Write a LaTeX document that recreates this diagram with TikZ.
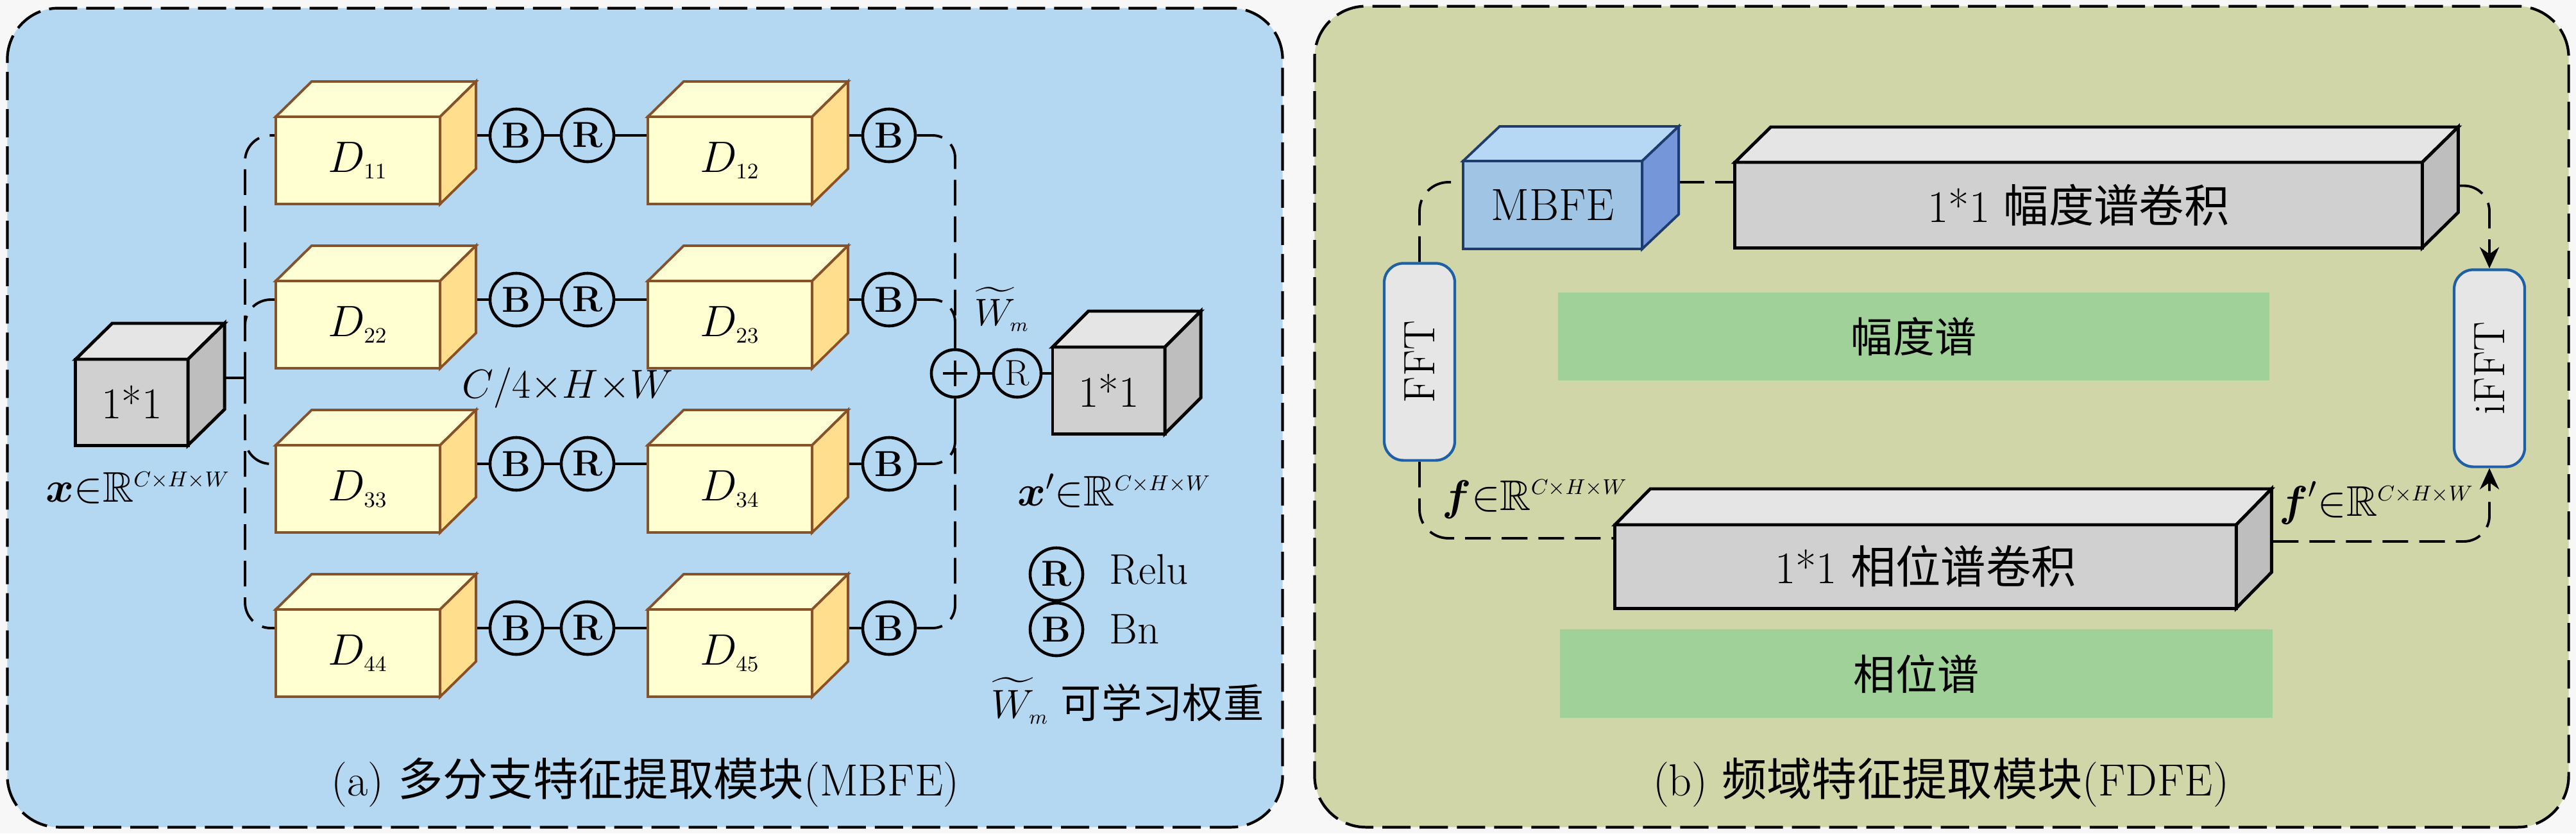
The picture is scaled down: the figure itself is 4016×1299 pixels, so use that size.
\documentclass[tikz,border=0pt]{standalone}
\usepackage{fix-cm}
\usepackage{amsmath,amssymb}
\usepackage{fontspec}
\newfontfamily\cjk{Noto Sans CJK SC}
\usetikzlibrary{arrows.meta,calc}
\definecolor{bgout}{RGB}{247,247,247}
\definecolor{panela}{RGB}{180,215,242}
\definecolor{panelb}{RGB}{209,214,168}
\definecolor{yfront}{RGB}{255,255,210}
\definecolor{ytop}{RGB}{255,255,214}
\definecolor{yside}{RGB}{255,222,142}
\definecolor{ybord}{RGB}{135,82,40}
\definecolor{gfront}{RGB}{208,208,208}
\definecolor{gtop}{RGB}{229,229,229}
\definecolor{gside}{RGB}{190,190,190}
\definecolor{bfront}{RGB}{160,196,228}
\definecolor{btop}{RGB}{182,216,244}
\definecolor{bside}{RGB}{118,150,218}
\definecolor{bbord}{RGB}{30,60,110}
\definecolor{fftbord}{RGB}{30,95,165}
\definecolor{fftfill}{RGB}{230,230,230}
\definecolor{greenbar}{RGB}{160,209,152}
\pgfdeclarelayer{panels}
\pgfdeclarelayer{links}
\pgfsetlayers{panels,links,main}
\newcommand\fsz[1]{\fontsize{#1}{#1}\selectfont}
\newcommand\chw{^{\scriptscriptstyle C\times H\times W}}
% side faces of a box: #1 style, #2 front node, #3 dx, #4 dy, #5 top colour, #6 side colour
\newcommand\cubefaces[6]{%
  \filldraw[#1,fill=#5] (#2.north west) -- ++(#3,#4) -- ($(#2.north east)+(#3,#4)$) -- (#2.north east) -- cycle;
  \filldraw[#1,fill=#6] (#2.north east) -- ++(#3,#4) -- ($(#2.south east)+(#3,#4)$) -- (#2.south east) -- cycle;}
\tikzset{
  yface/.style={draw=ybord,line width=1.1pt},
  ycube/.style={yface,fill=yfront,minimum width=2.56cm,minimum height=1.36cm,inner sep=0pt,outer sep=0pt,font=\fsz{19.5}},
  gface/.style={draw=black,line width=1.4pt},
  gcube/.style={gface,fill=gfront,inner sep=0pt,outer sep=0pt,font=\fsz{19.5}},
  bface/.style={draw=bbord,line width=1.1pt},
  bcube/.style={bface,fill=bfront,inner sep=0pt,outer sep=0pt,font=\fsz{20}},
  op/.style={circle,draw=black,line width=1.3pt,minimum size=0.82cm,inner sep=0pt,font=\fsz{16}},
  link/.style={draw=black,line width=1.1pt},
  conn/.style={link,dash pattern=on 0.4cm off 0.17cm},
  panel/.style={draw=black,line width=1.2pt,dash pattern=on 0.44cm off 0.14cm,rounded corners=0.8cm,inner sep=0pt},
  fftbox/.style={draw=fftbord,fill=fftfill,line width=1.2pt,rounded corners=0.3cm,minimum width=1.1cm,minimum height=3.07cm,inner sep=0pt,font=\fsz{19.5}},
  gbar/.style={fill=greenbar,inner sep=0pt,font=\fsz{18.5}},
  lab/.style={inner sep=0pt,font=\fsz{19}},
  tip/.style={-{Stealth[length=0.33cm,width=0.3cm]}},
}
\begin{document}
\begin{tikzpicture}[x=0.01cm,y=-0.01cm]
\useasboundingbox (0,0) rectangle (4016,1299);
\begin{pgfonlayer}{panels}
  \fill[bgout] (0,0) rectangle (4016,1299);
  \node[panel,fill=panela,minimum width=19.87cm,minimum height=12.76cm] (pa) at (1005.5,651) {};
  \node[panel,fill=panelb,minimum width=19.54cm,minimum height=12.79cm] (pb) at (3027,649.5) {};
\end{pgfonlayer}

% ---------- panel (a) ----------
\node[gcube,minimum width=1.75cm,minimum height=1.34cm] (in1) at (205.5,627) {1*1};
\cubefaces{gface}{in1}{57}{-56}{gtop}{gside}

\node[ycube] (d11) at (558,250) {$D_{\scriptscriptstyle 11}$};
\cubefaces{yface}{d11}{56}{-55}{ytop}{yside}
\node[ycube] (d22) at (558,506) {$D_{\scriptscriptstyle 22}$};
\cubefaces{yface}{d22}{56}{-55}{ytop}{yside}
\node[ycube] (d33) at (558,762) {$D_{\scriptscriptstyle 33}$};
\cubefaces{yface}{d33}{56}{-55}{ytop}{yside}
\node[ycube] (d44) at (558,1018) {$D_{\scriptscriptstyle 44}$};
\cubefaces{yface}{d44}{56}{-55}{ytop}{yside}

\node[ycube] (d12) at (1138,250) {$D_{\scriptscriptstyle 12}$};
\cubefaces{yface}{d12}{56}{-55}{ytop}{yside}
\node[ycube] (d23) at (1138,506) {$D_{\scriptscriptstyle 23}$};
\cubefaces{yface}{d23}{56}{-55}{ytop}{yside}
\node[ycube] (d34) at (1138,762) {$D_{\scriptscriptstyle 34}$};
\cubefaces{yface}{d34}{56}{-55}{ytop}{yside}
\node[ycube] (d45) at (1138,1018) {$D_{\scriptscriptstyle 45}$};
\cubefaces{yface}{d45}{56}{-55}{ytop}{yside}

\foreach \i/\yy in {1/211,2/467,3/723,4/979}{
  \node[op] (bA\i) at (805,\yy) {\textbf{B}};
  \node[op] (rr\i) at (916,\yy) {\textbf{R}};
  \node[op] (bB\i) at (1386,\yy) {\textbf{B}};
}

\node[op,minimum size=0.74cm] (plus) at (1489,582) {};
\draw[line width=1.3pt] ($(plus.center)+(-19,0)$) -- ($(plus.center)+(19,0)$)
                        ($(plus.center)+(0,-20)$) -- ($(plus.center)+(0,20)$);
\node[op,minimum size=0.74cm] (rr0) at (1586,582) {R};
\node[gcube,minimum width=1.75cm,minimum height=1.35cm] (out1) at (1728.5,608.5) {1*1};
\cubefaces{gface}{out1}{56}{-56}{gtop}{gside}

\coordinate (split) at (382,589);

\node[lab] (xin) at (215,760) {$\boldsymbol{x}{\in}\mathbb{R}\chw$};
\node[lab,font=\fsz{18}] (dimlab) at (885,605) {$C/4{\times}H{\times}W$};
\node[lab,font=\fsz{17}] (wm) at (1562,482) {$\widetilde{W}_{\scriptscriptstyle m}$};
\node[lab] (xout) at (1737,765) {$\boldsymbol{x}'{\in}\mathbb{R}\chw$};

\node[op] (legR) at (1647,895) {\textbf{R}};
\node[lab,anchor=west,font=\fsz{19}] (legRt) at (1729,888) {Relu};
\node[op] (legB) at (1647,981) {\textbf{B}};
\node[lab,anchor=west,font=\fsz{19}] (legBt) at (1729,981) {Bn};
\node[lab,font=\fsz{18}] (wleg) at (1758,1092) {$\widetilde{W}_{\scriptscriptstyle m}$ {\cjk 可学习权重}};

\node[font=\fsz{20},inner sep=0pt] (capa) at (1006,1220) {(a) {\cjk 多分支特征提取模块}(MBFE)};

% ---------- panel (b) ----------
\node[fftbox] (fft) at (2213,564) {\rotatebox{90}{FFT}};
\node[fftbox] (ifft) at (3881,574) {\rotatebox{90}{iFFT}};
\node[bcube,minimum width=2.79cm,minimum height=1.37cm] (mbfe) at (2420.5,319.5) {MBFE};
\cubefaces{bface}{mbfe}{57}{-54}{btop}{bside}
\node[gcube,minimum width=10.71cm,minimum height=1.33cm,font=\fsz{20}] (mag) at (3240.5,319.5) {1*1 {\cjk 幅度谱卷积}};
\cubefaces{gface}{mag}{56}{-55}{gtop}{gside}
\node[gcube,minimum width=9.68cm,minimum height=1.3cm,font=\fsz{20}] (pha) at (3002,883) {1*1 {\cjk 相位谱卷积}};
\cubefaces{gface}{pha}{55}{-56}{gtop}{gside}
\node[gbar,minimum width=11.09cm,minimum height=1.37cm] (gmag) at (2983.5,524.5) {\cjk 幅度谱};
\node[gbar,minimum width=11.11cm,minimum height=1.38cm] (gpha) at (2987.5,1050) {\cjk 相位谱};

\node[lab] (flab) at (2393,778) {$\boldsymbol{f}{\in}\mathbb{R}\chw$};
\node[lab] (fplab) at (3705,784) {$\boldsymbol{f}'{\in}\mathbb{R}\chw$};
\node[font=\fsz{20},inner sep=0pt] (capb) at (3026,1220) {(b) {\cjk 频域特征提取模块}(FDFE)};

\coordinate (mbout) at ([yshift=-0.33cm]mbfe.north east);

% ---------- connectors ----------
\begin{pgfonlayer}{links}
  \draw[link] (in1.east |- split) -- (split);
  \foreach \i/\a/\b in {1/d11/d12,2/d22/d23,3/d33/d34,4/d44/d45}{
    \draw[link] (\a.east |- bA\i) -- (bA\i) -- (rr\i) -- (\b.west |- rr\i);
    \draw[link] (\b.east |- bB\i) -- (bB\i);
    \draw[conn,rounded corners=0.35cm] (bB\i) -| (plus);
    \draw[conn,rounded corners=0.4cm] (split) |- (\a.west |- bA\i);
  }
  \draw[link] (plus) -- (rr0) -- (out1.west |- rr0);

  \draw[conn,rounded corners=0.45cm] (fft.north) |- ([yshift=-0.33cm]mbfe.north west);
  \draw[conn] (mbout) -- (mag.west |- mbout);
  \draw[conn,tip,rounded corners=0.4cm] ([yshift=0.3cm]mag.east) -| (ifft.north);
  \draw[conn,rounded corners=0.45cm] (fft.south) |- ([yshift=-0.21cm]pha.north west);
  \draw[conn,tip,rounded corners=0.4cm] ([yshift=-0.26cm]pha.north east) -| (ifft.south);
\end{pgfonlayer}
\end{tikzpicture}
\end{document}
